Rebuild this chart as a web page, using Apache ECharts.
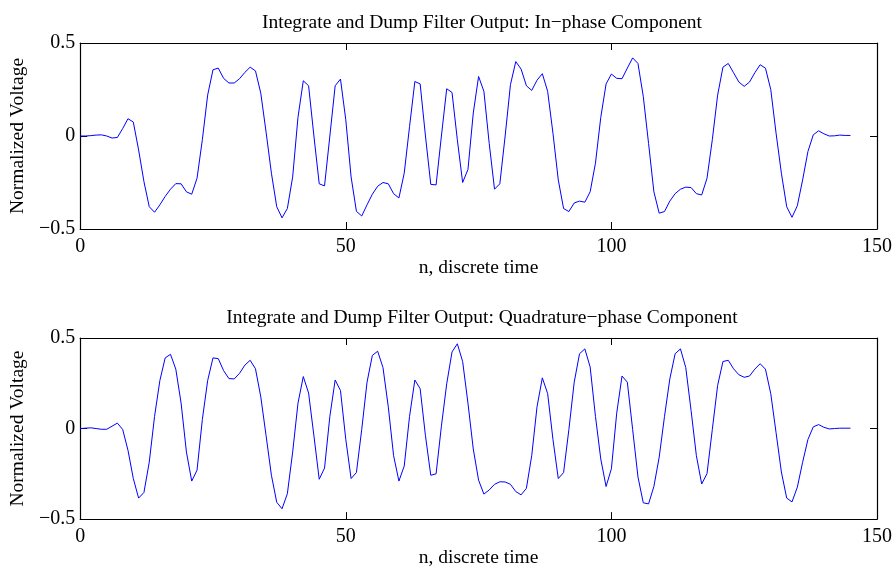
<!DOCTYPE html>
<html>
<head>
<meta charset="utf-8">
<title>Integrate and Dump Filter Output</title>
<script src="https://cdn.jsdelivr.net/npm/echarts@6/dist/echarts.min.js"></script>
<style>
  html, body { margin: 0; padding: 0; background: #fff; }
  #chart { width: 895px; height: 569px; }
</style>
</head>
<body>
<div id="chart"></div>
<script>
// Integrate-and-dump filter outputs, one sample per discrete time step n = 0..145
const inPhase = [
  0, 0, 0.002, 0.005, 0.006, 0.0, -0.011, -0.008, 0.04, 0.093,
  0.075, -0.075, -0.245, -0.38, -0.41, -0.37, -0.325, -0.286, -0.256, -0.257,
  -0.3, -0.313, -0.227, -0.02, 0.22, 0.356, 0.365, 0.31, 0.285, 0.285,
  0.308, 0.342, 0.37, 0.35, 0.23, 0.02, -0.2, -0.38, -0.44, -0.39,
  -0.22, 0.1, 0.297, 0.27, 0.0, -0.257, -0.268, 0.0, 0.27, 0.306,
  0.087, -0.22, -0.405, -0.43, -0.37, -0.313, -0.27, -0.25, -0.257, -0.31,
  -0.333, -0.2, 0.05, 0.293, 0.28, 0.0, -0.26, -0.263, 0.0, 0.254,
  0.234, -0.02, -0.25, -0.18, 0.123, 0.32, 0.24, -0.04, -0.286, -0.257,
  0.0, 0.276, 0.4, 0.36, 0.27, 0.245, 0.3, 0.335, 0.24, 0.015,
  -0.236, -0.39, -0.406, -0.36, -0.35, -0.356, -0.3, -0.146, 0.1, 0.28,
  0.333, 0.31, 0.308, 0.365, 0.42, 0.39, 0.213, -0.04, -0.3, -0.415,
  -0.406, -0.35, -0.31, -0.286, -0.275, -0.277, -0.31, -0.317, -0.227, -0.02,
  0.22, 0.37, 0.39, 0.34, 0.29, 0.267, 0.29, 0.34, 0.383, 0.365,
  0.25, 0.015, -0.2, -0.38, -0.437, -0.375, -0.236, -0.083, 0.006, 0.028,
  0.012, 0, 0.001, 0.005, 0.003, 0.003
];

const quadrature = [
  0, 0.002, 0.004, 0, -0.004, -0.004, 0.013, 0.03, -0.005, -0.12,
  -0.276, -0.384, -0.353, -0.186, 0.067, 0.265, 0.39, 0.41, 0.328, 0.14,
  -0.13, -0.29, -0.23, 0.05, 0.265, 0.39, 0.386, 0.32, 0.276, 0.274,
  0.305, 0.35, 0.377, 0.33, 0.175, -0.04, -0.258, -0.407, -0.443, -0.36,
  -0.13, 0.14, 0.287, 0.196, -0.04, -0.28, -0.218, 0.067, 0.268, 0.21,
  -0.06, -0.276, -0.243, -0.005, 0.256, 0.404, 0.427, 0.337, 0.12, -0.15,
  -0.29, -0.207, 0.067, 0.268, 0.22, -0.04, -0.258, -0.25, 0.013, 0.247,
  0.423, 0.468, 0.37, 0.14, -0.113, -0.285, -0.362, -0.339, -0.308, -0.294,
  -0.295, -0.308, -0.348, -0.366, -0.33, -0.15, 0.12, 0.28, 0.193, -0.06,
  -0.276, -0.243, -0.005, 0.256, 0.413, 0.44, 0.34, 0.067, -0.168, -0.32,
  -0.222, 0.085, 0.29, 0.256, -0.005, -0.267, -0.41, -0.416, -0.32, -0.158,
  0.067, 0.274, 0.413, 0.44, 0.337, 0.1, -0.15, -0.306, -0.249, -0.005,
  0.238, 0.37, 0.377, 0.33, 0.297, 0.283, 0.29, 0.328, 0.358, 0.328,
  0.193, -0.023, -0.24, -0.384, -0.405, -0.324, -0.186, -0.06, 0.009, 0.022,
  0.007, -0.002, 0, 0.002, 0.002, 0.002
];

const titles = [
  'Integrate and Dump Filter Output: In\u2212phase Component',
  'Integrate and Dump Filter Output: Quadrature\u2212phase Component'
];
const xName = 'n, discrete time';
const yName = 'Normalized Voltage';
const xRange = { min: 0, max: 150, interval: 50 };
const yRange = { min: -0.5, max: 0.5, interval: 0.5 };

const FONT = '"Liberation Serif", "Times New Roman", serif';
const BLACK = '#000';

function pairs(values) {
  return values.map((v, i) => [i, v]);
}

function fmtY(v) {
  if (v === 0) return '0';
  return String(v).replace('-', '\u2212');
}

const grids = [
  { left: 77, top: 43, width: 800, height: 186 },
  { left: 77, top: 338, width: 800, height: 185 }
];

const boxLine = { show: true, onZero: false, lineStyle: { color: BLACK, width: 1.2 } };
const boxTick = { show: true, inside: true, length: 7, lineStyle: { color: BLACK } };

const xAxes = [];
const yAxes = [];
grids.forEach((g, gi) => {
  // bottom axis with labels
  xAxes.push({
    type: 'value', gridIndex: gi, position: 'bottom',
    min: xRange.min, max: xRange.max, interval: xRange.interval,
    name: xName, nameLocation: 'middle', nameGap: 25,
    nameTextStyle: { fontFamily: FONT, fontSize: 19.5, color: BLACK },
    axisLine: boxLine, axisTick: boxTick,
    axisLabel: { fontFamily: FONT, fontSize: 20, color: BLACK, margin: 8 },
    splitLine: { show: false }
  });
  // top edge of the box
  xAxes.push({
    type: 'value', gridIndex: gi, position: 'top',
    min: xRange.min, max: xRange.max, interval: xRange.interval,
    axisLine: boxLine, axisTick: boxTick,
    axisLabel: { show: false },
    splitLine: { show: false }
  });
  // left axis with labels
  yAxes.push({
    type: 'value', gridIndex: gi, position: 'left',
    min: yRange.min, max: yRange.max, interval: yRange.interval,
    name: yName, nameLocation: 'middle', nameGap: 49, nameRotate: 90,
    nameTextStyle: { fontFamily: FONT, fontSize: 19.5, color: BLACK },
    axisLine: boxLine, axisTick: boxTick,
    axisLabel: { fontFamily: FONT, fontSize: 20, color: BLACK, margin: 5, formatter: fmtY },
    splitLine: { show: false }
  });
  // right edge of the box
  yAxes.push({
    type: 'value', gridIndex: gi, position: 'right',
    min: yRange.min, max: yRange.max, interval: yRange.interval,
    axisLine: boxLine, axisTick: boxTick,
    axisLabel: { show: false },
    splitLine: { show: false }
  });
});

const chart = echarts.init(document.getElementById('chart'), null, { renderer: 'canvas' });
chart.setOption({
  animation: false,
  backgroundColor: '#fff',
  title: [
    { text: titles[0], left: 477, top: 8, textAlign: 'center',
      textStyle: { fontFamily: FONT, fontSize: 19.5, fontWeight: 'normal', color: BLACK } },
    { text: titles[1], left: 477, top: 303, textAlign: 'center',
      textStyle: { fontFamily: FONT, fontSize: 19.5, fontWeight: 'normal', color: BLACK } }
  ],
  grid: grids,
  xAxis: xAxes,
  yAxis: yAxes,
  series: [
    { type: 'line', xAxisIndex: 0, yAxisIndex: 0, data: pairs(inPhase),
      showSymbol: false, lineStyle: { color: '#0000ff', width: 1 }, itemStyle: { color: '#0000ff' } },
    { type: 'line', xAxisIndex: 2, yAxisIndex: 2, data: pairs(quadrature),
      showSymbol: false, lineStyle: { color: '#0000ff', width: 1 }, itemStyle: { color: '#0000ff' } }
  ]
});
</script>
</body>
</html>
